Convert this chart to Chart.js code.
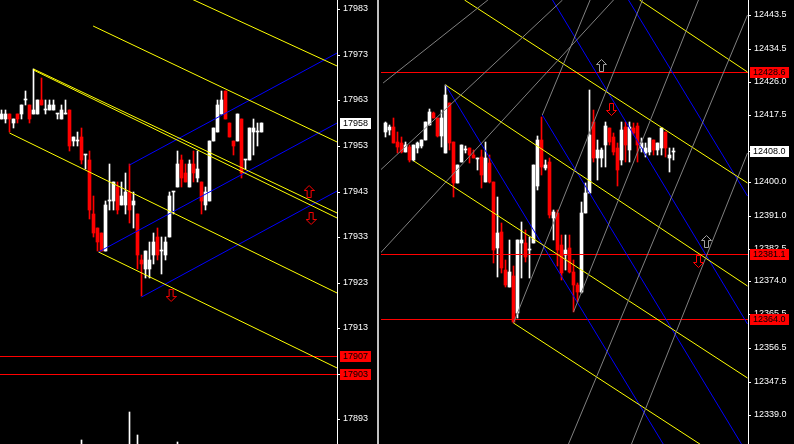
<!DOCTYPE html>
<html><head><meta charset="utf-8">
<script src="https://cdn.jsdelivr.net/npm/chart.js@4.4.1/dist/chart.umd.min.js"></script>
<style>
html,body{margin:0;padding:0;background:#000;width:794px;height:444px;overflow:hidden}
#cl{position:absolute;left:0;top:0}
#cr{position:absolute;left:381px;top:0}
#sep{position:absolute;left:377px;top:0;width:2px;height:444px;background:#c0c0c0}
</style></head>
<body>
<canvas id="cl" width="377" height="444"></canvas>
<div id="sep"></div>
<canvas id="cr" width="413" height="444"></canvas>
<script>
// ---------- LEFT PANEL DATA ----------
const leftOpen = [17959,17959,17960,17958,17960,17960,17963,17962,17960,17960,
17963,17961,17961,17961,17960,17959,17960,17961,17954,17954,
17955,17951,17950,17938,17935,17934,17930,17941,17941,17944,
17940,17940,17943,17940,17938,17928,17926,17926,17929,17933,
17930,17929,17933,17943,17944,17950,17947,17944,17949,17946,
17945,17940,17941,17954,17956,17960,17965,17958,17954,17954,
17959,17950,17950,17956,17956,17956];
const leftHigh = [17961,17961,17960,17959,17960,17962,17965,17962,17970,17963,
17968,17963,17963,17963,17960,17962,17963,17961,17955,17956,
17957,17951,17952,17942,17935,17934,17941,17949,17945,17945,
17945,17947,17949,17943,17938,17929,17930,17932,17934,17935,
17933,17933,17943,17943,17952,17951,17949,17950,17952,17952,
17945,17944,17954,17957,17963,17965,17965,17958,17954,17960,
17959,17950,17957,17959,17958,17958];
const leftLow = [17959,17958,17956,17957,17958,17959,17962,17958,17960,17960,
17962,17960,17961,17961,17959,17959,17960,17952,17953,17953,
17949,17948,17937,17933,17930,17930,17930,17939,17939,17938,
17940,17938,17936,17935,17926,17920,17924,17924,17927,17928,
17925,17928,17933,17938,17944,17944,17945,17944,17945,17945,
17938,17939,17941,17954,17956,17960,17959,17955,17951,17954,
17946,17948,17950,17951,17953,17956];
const leftClose = [17960,17960,17959,17959,17959,17962,17963,17959,17961,17963,
17962,17961,17962,17962,17960,17961,17960,17953,17955,17954,
17950,17951,17939,17934,17932,17930,17940,17941,17945,17939,
17942,17943,17939,17941,17929,17927,17930,17928,17932,17929,
17930,17932,17942,17943,17949,17946,17945,17949,17947,17948,
17941,17943,17954,17957,17962,17963,17959,17955,17953,17960,
17947,17950,17957,17957,17956,17958];
const leftVolIndex = [20, 32, 34, 44];
const leftVolume = [0.8, 7.3, 2.0, 0.5];
const leftTicks = [17983,17973,17963,17953,17943,17933,17923,17913,17903,17893];
const leftLevels = [17907, 17903];
const leftLastPrice = 17958;
// trend lines: [startIndex, startPrice, endIndex, endPrice]
const leftYellow = [
  [45.9,17986.0, 83.9,17970.5],
  [22.9,17979.3, 83.9,17953.9],
  [8.0,17969.9, 83.9,17938.2],
  [8.0,17969.7, 83.9,17937.2],
  [2.0,17955.8, 83.9,17920.7],
  [24.25,17929.7, 83.9,17904.3]
];
const leftBlue = [
  [32.0,17948.8, 83.9,17973.5],
  [24.25,17929.7, 83.9,17958.0],
  [35.0,17919.9, 83.9,17943.1]
];
const leftArrowsUp = [[76.9,17942.9]];
const leftArrowsDown = [[77.4,17936.9],[42.4,17920.0]];

// ---------- RIGHT PANEL DATA ----------
const rightOpen = [12413.0,12413.5,12414.3,12410.4,12410.1,12407.8,12409.1,12405.6,12408.7,12409.3,
12410.9,12414.8,12417.8,12416.7,12411.9,12407.4,12420.4,12410.4,12399.5,12405.2,
12408.2,12408.7,12406.9,12405.8,12406.5,12400.0,12404.8,12400.0,12382.6,12386.9,
12376.9,12372.5,12375.3,12365.6,12383.9,12384.0,12382.1,12383.9,12398.7,12410.9,
12403.5,12405.2,12390.4,12391.7,12383.4,12380.8,12382.6,12376.4,12373.0,12371.2,
12391.7,12396.9,12415.6,12406.1,12406.1,12409.5,12414.1,12411.5,12408.7,12405.6,
12414.3,12408.2,12413.9,12414.5,12408.7,12407.4,12407.8,12410.9,12408.2,12408.7,
12413.0,12406.1,12407.8];
const rightHigh = [12415.6,12414.8,12416.7,12413.0,12411.7,12410.4,12409.5,12409.5,12410.4,12410.9,
12415.6,12418.9,12418.2,12416.7,12418.7,12425.2,12420.4,12410.4,12404.3,12409.5,
12409.3,12408.7,12408.2,12406.1,12408.2,12410.4,12406.9,12400.0,12396.0,12389.1,
12379.5,12384.7,12377.8,12384.7,12389.5,12387.3,12385.6,12404.3,12411.9,12416.9,
12405.6,12406.2,12392.6,12392.6,12386.0,12386.0,12386.0,12379.5,12373.4,12394.7,
12399.5,12423.9,12418.7,12410.9,12408.8,12415.6,12414.1,12412.6,12410.0,12415.5,
12415.6,12415.6,12415.4,12415.4,12411.4,12410.0,12411.3,12410.9,12410.0,12413.9,
12413.0,12408.7,12408.7];
const rightLow = [12411.7,12412.2,12410.0,12407.4,12407.4,12407.8,12405.2,12405.4,12407.4,12408.7,
12410.9,12414.8,12416.5,12411.7,12409.1,12407.4,12408.2,12396.0,12399.5,12405.2,
12407.4,12404.8,12406.1,12403.0,12398.2,12400.0,12399.5,12378.6,12375.1,12376.0,
12372.5,12372.5,12363.0,12364.3,12374.7,12379.1,12374.7,12383.9,12397.8,12401.7,
12403.0,12390.5,12384.7,12377.8,12374.3,12376.9,12376.0,12366.0,12368.6,12370.8,
12391.7,12396.9,12405.2,12400.4,12403.9,12403.9,12409.5,12406.9,12398.7,12404.3,
12405.2,12405.2,12412.2,12405.2,12407.7,12406.5,12406.9,12406.9,12406.9,12406.9,
12406.5,12402.6,12405.6];
const rightClose = [12415.2,12414.2,12410.0,12409.1,12407.8,12409.5,12405.6,12409.5,12410.0,12410.9,
12415.6,12418.2,12416.5,12411.9,12416.5,12422.6,12410.0,12399.5,12404.3,12409.5,
12408.4,12406.9,12406.1,12405.9,12401.7,12406.1,12400.0,12382.1,12386.5,12377.3,
12373.0,12376.4,12363.4,12384.7,12384.7,12380.4,12382.4,12404.3,12410.9,12403.9,
12404.3,12391.3,12392.1,12382.1,12376.0,12382.1,12376.4,12373.0,12371.2,12391.7,
12396.9,12412.2,12406.1,12408.2,12408.2,12414.5,12410.4,12407.8,12403.0,12413.5,
12409.5,12414.3,12412.6,12409.5,12410.0,12408.7,12411.3,12408.2,12410.0,12413.9,
12408.7,12406.9,12408.0];
const rightTickLabels = ["12443.5","12434.5","12426.0","12417.5","12408.0","12400.0","12391.0",
"12382.5","12374.0","12365.5","12356.5","12347.5","12339.0"];
const rightLevels = [12428.6, 12381.1, 12364.0];
const rightLastPrice = 12408.0;
const rightYellow = [
  [15,12425.2, 90.5,12372.7],
  [19.75,12447.4, 90.5,12399.7],
  [63.5,12447.4, 90.5,12428.6],
  [7.08,12405.4, 90.5,12348.7],
  [32,12363.0, 90.5,12323.3]
];
const rightBlue = [
  [15,12425.2, 90.5,12295.1],
  [39.2,12417.4, 90.5,12328.9],
  [41.75,12447.4, 90.5,12362.8],
  [60.75,12447.4, 90.5,12396.2]
];
const rightGray = [
  [32,12363.0, 64.25,12447.4],
  [47,12366.0, 78.25,12447.4],
  [45.75,12331.4, 90.5,12443.5],
  [61.5,12331.4, 90.5,12407.5],
  [39.2,12417.4, 51.15,12447.4],
  [-1.5,12381.1, 57,12447.4],
  [-1.25,12403.0, 44.25,12447.4],
  [-0.6,12425.7, 25.6,12447.4]
];
const rightArrowsUp = [[54,12430.2],[80.25,12384.2]];
const rightArrowsDown = [[56.5,12418.7],[78.25,12379.0]];

// ---------- HELPERS ----------
const FONT = {family:"'Liberation Sans', Arial, sans-serif", size:9};
function arrowImg(up, color){
  const c = document.createElement('canvas'); c.width = 11; c.height = 14;
  const g = c.getContext('2d'); g.strokeStyle = color; g.lineWidth = 1;
  const pts = [[5.5,0.5],[10.5,5.5],[7.5,5.5],[7.5,12.5],[3.5,12.5],[3.5,5.5],[0.5,5.5]];
  g.beginPath();
  pts.forEach(([x,y],k)=>{ const yy = up ? y : 13 - y; if(k) g.lineTo(x,yy); else g.moveTo(x,yy); });
  g.closePath(); g.stroke();
  return c;
}
function candleSets(O,H,L,C){
  const col = O.map((o,k)=> C[k] >= o ? '#ffffff' : '#ff0000');
  return [
    {type:'bar', data:H.map((h,k)=>({x:k, y:[L[k], h]})), backgroundColor:col, barThickness:1, grouped:false, order:6, borderWidth:0},
    {type:'bar', data:O.map((o,k)=>({x:k, y:[o, C[k]]})), backgroundColor:col, barThickness:3, grouped:false, minBarLength:1, order:5, borderWidth:0}
  ];
}
function lineSets(list, color){
  return list.map(s=>({type:'line', data:[{x:s[0],y:s[1]},{x:s[2],y:s[3]}], borderColor:color, borderWidth:1,
    pointRadius:0, pointHoverRadius:0, fill:false, tension:0, clip:0, order:1}));
}
function levelSets(levels, xmin, xmax, color){
  return levels.map(v=>({type:'line', level:true, data:[{x:xmin,y:v},{x:xmax,y:v}], borderColor:color, borderWidth:1,
    pointRadius:0, pointHoverRadius:0, fill:false, clip:0, order:2}));
}
function arrowSet(list, img){
  return {type:'scatter', data:list.map(a=>({x:a[0], y:a[1]})), pointStyle:img, pointRadius:1, pointHoverRadius:1, order:0, clip:false};
}
const crispPlugin = {
  id:'crisp',
  beforeDatasetDraw(chart, args){
    chart.ctx.save();
    if (args.meta._dataset.level) chart.ctx.translate(0, 0.5);
  },
  afterDatasetDraw(chart){ chart.ctx.restore(); }
};
const boxPlugin = {
  id:'boxes',
  afterDraw(chart, args, opts){
    const ctx = chart.ctx, ys = chart.scales.y, ca = chart.chartArea;
    ctx.save();
    ctx.font = "9px 'Liberation Sans', Arial, sans-serif";
    ctx.textBaseline = 'middle';
    (opts.items||[]).forEach(b=>{
      const y = Math.round(ys.getPixelForValue(b.value));
      ctx.fillStyle = b.bg;
      ctx.fillRect(ca.right + opts.dx, y - 5, opts.w, 11);
      ctx.fillStyle = b.fg;
      ctx.fillText(b.label, ca.right + opts.dx + 3, y + 0.5);
    });
    ctx.restore();
  }
};
function yScale(min, max, ticks, width, fmt){
  return {position:'right', min, max, offset:false, grace:0, alignToPixels:true,
    afterBuildTicks(s){ s.ticks = ticks.map(v=>({value:v})); },
    afterFit(s){ s.width = width; s.paddingTop = 0; s.paddingBottom = 0; s.paddingLeft = 0; s.paddingRight = 0; },
    ticks:{color:'#ffffff', font:FONT, padding:3, autoSkip:false, callback:fmt},
    grid:{drawOnChartArea:false, drawTicks:true, tickLength:3, tickColor:'#ffffff', color:'#ffffff', offset:false},
    border:{color:'#ffffff', width:1}};
}
function xScale(min, max){
  return {type:'linear', min, max, display:false, offset:false, grace:0, grid:{offset:false},
    afterFit(s){ s.paddingLeft = 0; s.paddingRight = 0; s.height = 0; }};
}
const baseOpts = {responsive:false, animation:false, devicePixelRatio:1,
  layout:{padding:0, autoPadding:false}, events:[]};

// ---------- LEFT CHART ----------
const LXMIN = -0.375, LXMAX = 83.875;
new Chart(document.getElementById('cl'), {
  type:'bar',
  data:{datasets:[
    ...candleSets(leftOpen, leftHigh, leftLow, leftClose),
    {type:'bar', yAxisID:'yv', data:leftVolIndex.map((k,n)=>({x:k, y:leftVolume[n]})), backgroundColor:'#ffffff', barThickness:1, grouped:false, order:7},
    ...lineSets(leftYellow, '#ffff00'),
    ...lineSets(leftBlue, '#0000ff'),
    ...levelSets(leftLevels, LXMIN, LXMAX, '#ff0000'),
    arrowSet(leftArrowsUp, arrowImg(true, '#ff0000')),
    arrowSet(leftArrowsDown, arrowImg(false, '#ff0000'))
  ]},
  options:{...baseOpts,
    plugins:{legend:{display:false}, tooltip:{enabled:false},
      boxes:{dx:3, w:31, items:[
        {value:leftLastPrice, label:String(leftLastPrice), bg:'#ffffff', fg:'#000000'},
        ...leftLevels.map(v=>({value:v, label:String(v), bg:'#ff0000', fg:'#000000'}))]}},
    scales:{
      x:xScale(LXMIN, LXMAX),
      y:yScale(17887.59, 17985.04, leftTicks, 40, v=>String(v)),
      yv:{display:false, min:0, max:100, offset:false, alignToPixels:true}
    }},
  plugins:[crispPlugin, boxPlugin]
});

// ---------- RIGHT CHART ----------
const RXMIN = -1.125, RXMAX = 90.625;
const rightTickValues = rightTickLabels.map(Number);
new Chart(document.getElementById('cr'), {
  type:'bar',
  data:{datasets:[
    ...candleSets(rightOpen, rightHigh, rightLow, rightClose),
    ...lineSets(rightGray, '#808080'),
    ...lineSets(rightYellow, '#ffff00'),
    ...lineSets(rightBlue, '#0000ff'),
    ...levelSets(rightLevels, RXMIN, RXMAX, '#ff0000'),
    arrowSet(rightArrowsUp, arrowImg(true, '#a0a0a0')),
    arrowSet(rightArrowsDown, arrowImg(false, '#ff0000'))
  ]},
  options:{...baseOpts,
    plugins:{legend:{display:false}, tooltip:{enabled:false},
      boxes:{dx:2, w:39, items:[
        {value:rightLastPrice, label:rightLastPrice.toFixed(1), bg:'#ffffff', fg:'#000000'},
        ...rightLevels.map(v=>({value:v, label:v.toFixed(1), bg:'#ff0000', fg:'#000000'}))]}},
    scales:{
      x:xScale(RXMIN, RXMAX),
      y:yScale(12331.43, 12447.42, rightTickValues, 46, v=>Number(v).toFixed(1))
    }},
  plugins:[crispPlugin, boxPlugin]
});
</script>
</body></html>
